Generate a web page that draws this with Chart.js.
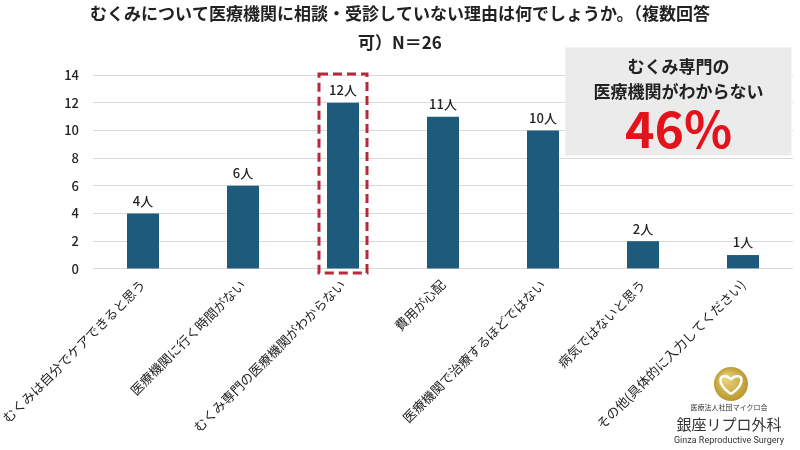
<!DOCTYPE html>
<html>
<head>
<meta charset="utf-8">
<script src="https://cdn.jsdelivr.net/npm/chart.js@4/dist/chart.umd.min.js"></script>
<style>
  html, body { margin: 0; padding: 0; background: #fff; }
  #wrap { width: 800px; height: 450px; }
</style>
</head>
<body>
<div id="wrap"><canvas id="myChart" width="800" height="450"></canvas></div>
<script>
const FONT = '"Noto Sans CJK JP", "Noto Sans", sans-serif';

const categories = [
  "むくみは自分でケアできると思う",
  "医療機関に行く時間がない",
  "むくみ専門の医療機関がわからない",
  "費用が心配",
  "医療機関で治療するほどではない",
  "病気ではないと思う",
  "その他(具体的に入力してください)",
];
const counts = [4, 6, 12, 11, 10, 2, 1];
const yTicks = [0, 2, 4, 6, 8, 10, 12, 14];
const titleLines = [
  "むくみについて医療機関に相談・受診していない理由は何でしょうか。（複数回答",
  "可）N＝26",
];
const highlightIndex = 2;
const calloutLines = ["むくみ専門の", "医療機関がわからない"];
const calloutValue = "46%";

// 棒の上の「○人」ラベル
const valueLabels = {
  id: "valueLabels",
  afterDatasetsDraw(chart) {
    const ctx = chart.ctx;
    const meta = chart.getDatasetMeta(0);
    ctx.save();
    ctx.font = "500 13px " + FONT;
    ctx.fillStyle = "#222";
    ctx.textAlign = "center";
    ctx.textBaseline = "bottom";
    meta.data.forEach((bar, i) => {
      ctx.fillText(counts[i] + "人", bar.x, bar.y - 6);
    });
    ctx.restore();
  },
};

// 強調の点線枠・右上の吹き出し・ロゴ
const extras = {
  id: "extras",
  afterDraw(chart) {
    const ctx = chart.ctx;
    const x = chart.scales.x;
    const y = chart.scales.y;
    const cx = x.getPixelForValue(highlightIndex);

    ctx.save();
    ctx.strokeStyle = "#b8283a";
    ctx.lineWidth = 3;
    ctx.setLineDash([9, 5]);
    ctx.strokeRect(cx - 24, y.getPixelForValue(14) - 1, 48, y.getPixelForValue(0) - y.getPixelForValue(14) + 5);
    ctx.restore();

    // callout
    ctx.save();
    const bx = 565, by = 47, bw = 227, bh = 109;
    ctx.fillStyle = "#ebebeb";
    ctx.fillRect(bx, by, bw, bh);
    ctx.strokeStyle = "#f4f4f4";
    ctx.lineWidth = 1;
    ctx.strokeRect(bx + 0.5, by + 0.5, bw - 1, bh - 1);
    ctx.fillStyle = "#222";
    ctx.textAlign = "center";
    ctx.textBaseline = "middle";
    ctx.font = "bold 17px " + FONT;
    ctx.fillText(calloutLines[0], bx + bw / 2, by + 20);
    ctx.fillText(calloutLines[1], bx + bw / 2, by + 45);
    ctx.fillStyle = "#e3131b";
    ctx.font = "bold 50px " + FONT;
    ctx.fillText(calloutValue, bx + bw / 2, by + 82);
    ctx.restore();

    // logo
    ctx.save();
    const lx = 731, ly = 384;
    const g = ctx.createRadialGradient(lx - 5, ly - 6, 2, lx, ly, 18);
    g.addColorStop(0, "#e8d27a");
    g.addColorStop(1, "#b8952a");
    ctx.fillStyle = g;
    ctx.beginPath();
    ctx.arc(lx, ly, 17, 0, Math.PI * 2);
    ctx.fill();
    ctx.strokeStyle = "#fff";
    ctx.lineWidth = 2.5;
    ctx.beginPath();
    ctx.moveTo(lx, ly + 10);
    ctx.bezierCurveTo(lx - 16, ly, lx - 12, ly - 14, lx, ly - 5);
    ctx.bezierCurveTo(lx + 12, ly - 14, lx + 16, ly, lx, ly + 10);
    ctx.stroke();
    ctx.fillStyle = "#333";
    ctx.textAlign = "center";
    ctx.textBaseline = "middle";
    ctx.font = "7px " + FONT;
    ctx.fillText("医療法人社団マイクロ会", lx - 2, 407);
    ctx.font = "15px " + FONT;
    ctx.fillText("銀座リプロ外科", lx - 2, 424);
    ctx.font = "9px Roboto, sans-serif";
    ctx.fillText("Ginza Reproductive Surgery", lx - 2, 441);
    ctx.restore();
  },
};

const ctx = document.getElementById("myChart").getContext("2d");
const myChart = new Chart(ctx, {
  type: "bar",
  data: {
    labels: categories,
    datasets: [
      {
        data: counts,
        backgroundColor: "#1d5a7c",
        borderWidth: 0,
        barPercentage: 0.64,
        categoryPercentage: 0.5,
      },
    ],
  },
  options: {
    responsive: false,
    animation: false,
    layout: { padding: { left: 7, right: 7, top: 0, bottom: 7 } },
    plugins: {
      legend: { display: false },
      tooltip: { enabled: false },
      title: {
        display: true,
        text: titleLines,
        color: "#222",
        font: { family: FONT, size: 17, weight: "bold", lineHeight: 1.65 },
        padding: { top: 0, bottom: 19 },
      },
    },
    scales: {
      x: {
        grid: { display: false, drawTicks: false },
        border: { display: false },
        afterFit: (axis) => {
          axis.paddingLeft = 0;
          axis.paddingRight = 0;
        },
        ticks: {
          autoSkip: false,
          minRotation: 45,
          maxRotation: 45,
          padding: 8,
          color: "#222",
          font: { family: FONT, size: 13 },
        },
      },
      y: {
        min: 0,
        max: 14,
        afterBuildTicks: (axis) => {
          axis.ticks = yTicks.map((v) => ({ value: v }));
        },
        afterFit: (axis) => {
          axis.width = 86;
        },
        grid: { color: "#d9d9d9", drawTicks: false },
        border: { display: false },
        ticks: {
          padding: 14,
          color: "#222",
          font: { family: FONT, size: 13, weight: "500" },
        },
      },
    },
  },
  plugins: [valueLabels, extras],
});
</script>
</body>
</html>
